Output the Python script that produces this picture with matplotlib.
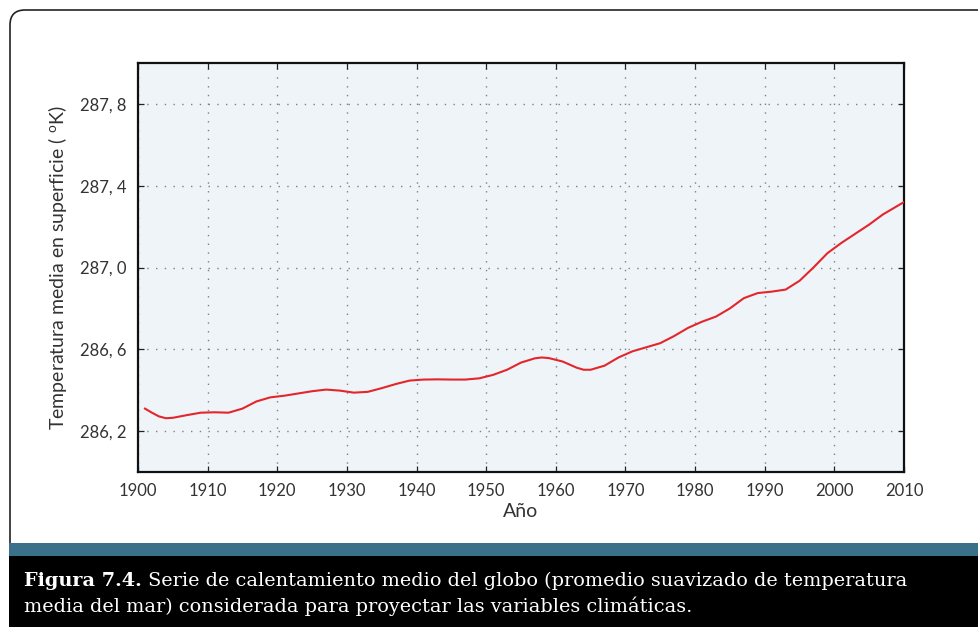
import matplotlib
matplotlib.use("Agg")
import matplotlib.pyplot as plt
from matplotlib.patches import FancyBboxPatch, Rectangle
from matplotlib.ticker import FuncFormatter

plt.rcParams["mathtext.fontset"] = "custom"
plt.rcParams["mathtext.rm"] = "Lato"
plt.rcParams["mathtext.it"] = "Lato"

years = [1901, 1902, 1903, 1904, 1905, 1907, 1909, 1911, 1913, 1915, 1917, 1919,
         1921, 1923, 1925, 1927, 1929, 1931, 1933, 1935, 1937, 1939, 1941, 1943,
         1945, 1947, 1949, 1951, 1953, 1955, 1957, 1958, 1959, 1961, 1963, 1964,
         1965, 1967, 1969, 1971, 1973, 1975, 1977, 1979, 1981, 1983, 1985, 1987,
         1989, 1991, 1993, 1995, 1997, 1999, 2001, 2003, 2005, 2007, 2009, 2010]
temps = [286.31, 286.29, 286.272, 286.263, 286.265, 286.278, 286.290, 286.292,
         286.290, 286.31, 286.345, 286.365, 286.373, 286.384, 286.395, 286.403,
         286.398, 286.388, 286.392, 286.41, 286.43, 286.447, 286.452, 286.453,
         286.452, 286.452, 286.458, 286.475, 286.50, 286.535, 286.556, 286.56,
         286.557, 286.54, 286.51, 286.50, 286.50, 286.52, 286.56, 286.59,
         286.61, 286.63, 286.665, 286.705, 286.735, 286.76, 286.80, 286.85,
         286.875, 286.882, 286.892, 286.935, 287.00, 287.07, 287.12, 287.165,
         287.21, 287.26, 287.30, 287.32]

xticks = list(range(1900, 2011, 10))
yticks = [286.2, 286.6, 287.0, 287.4, 287.8]

xlabel = "Año"
ylabel = r"Temperatura media en superficie ( $^{\mathrm{o}}$K)"
cap_bold = "Figura 7.4."
cap_rest1 = " Serie de calentamiento medio del globo (promedio suavizado de temperatura"
cap_line2 = "media del mar) considerada para proyectar las variables climáticas."

W, H = 979, 627
fig = plt.figure(figsize=(W / 100, H / 100), dpi=100)
fig.patch.set_facecolor("white")

def px(x, y):
    return x / 100, (H - y) / 100

bx0, by0 = px(10, 560)
bx1, by1 = px(1010, 10)
box = FancyBboxPatch((bx0 + 0.15, by0), (bx1 - bx0) - 0.3, (by1 - by0) - 0.15,
                     boxstyle="round,pad=0.15", transform=fig.dpi_scale_trans,
                     facecolor="none", edgecolor="#222222", linewidth=1.2, zorder=0)
fig.patches.append(box)

tx0, ty0 = px(9, 556)
teal = Rectangle((tx0, ty0), (W - 9) / 100, 13.5 / 100, transform=fig.dpi_scale_trans,
                 facecolor="#3a708a", edgecolor="none", zorder=1)
fig.patches.append(teal)
kx0, ky0 = px(9, 627)
black = Rectangle((kx0, ky0), (W - 9) / 100, 71 / 100, transform=fig.dpi_scale_trans,
                  facecolor="black", edgecolor="none", zorder=1)
fig.patches.append(black)

ax = fig.add_axes([138 / W, (H - 472) / H, (904 - 138) / W, (472 - 63) / H])
ax.set_zorder(3)
ax.set_facecolor("#eff4f8")
ax.plot(years, temps, color="#e3262b", linewidth=1.5, zorder=3)
ax.set_xlim(1900, 2010)
ax.set_ylim(286.0, 288.0)
ax.set_xticks(xticks)
ax.set_yticks(yticks)
ax.yaxis.set_major_formatter(FuncFormatter(lambda v, p: f"{v:.1f}".replace(".", ", ")))
ax.grid(True, color="#808080", linestyle=(0, (1, 5.3)), linewidth=1.0)
ax.tick_params(direction="in", top=True, right=True, length=4.5, width=0.9,
               labelsize=12, pad=8, colors="#222222", labelcolor="#333333")
for s in ax.spines.values():
    s.set_linewidth(1.6)
    s.set_color("#111111")
for lab in ax.get_xticklabels() + ax.get_yticklabels():
    lab.set_family("Lato")
ax.set_xlabel(xlabel, fontsize=14, family="Lato", labelpad=3, color="#333333")
ax.set_ylabel(ylabel, fontsize=14, family="Lato", labelpad=8, color="#333333")

# caption
fs = 13.9
fam = "DejaVu Serif"
y1 = (H - 586) / H
y2 = (H - 612) / H
t1 = fig.text(24 / W, y1, cap_bold, color="white", fontsize=fs, fontweight="bold",
              family=fam, va="baseline", ha="left")
fig.canvas.draw()
r = fig.canvas.get_renderer()
bb = t1.get_window_extent(r)
t2 = fig.text(bb.x1 / W, y1, cap_rest1, color="white", fontsize=fs,
              family=fam, va="baseline", ha="left")
t3 = fig.text(24 / W, y2, cap_line2, color="white", fontsize=fs,
              family=fam, va="baseline", ha="left")

fig.savefig("out.png", dpi=100, facecolor="white")
